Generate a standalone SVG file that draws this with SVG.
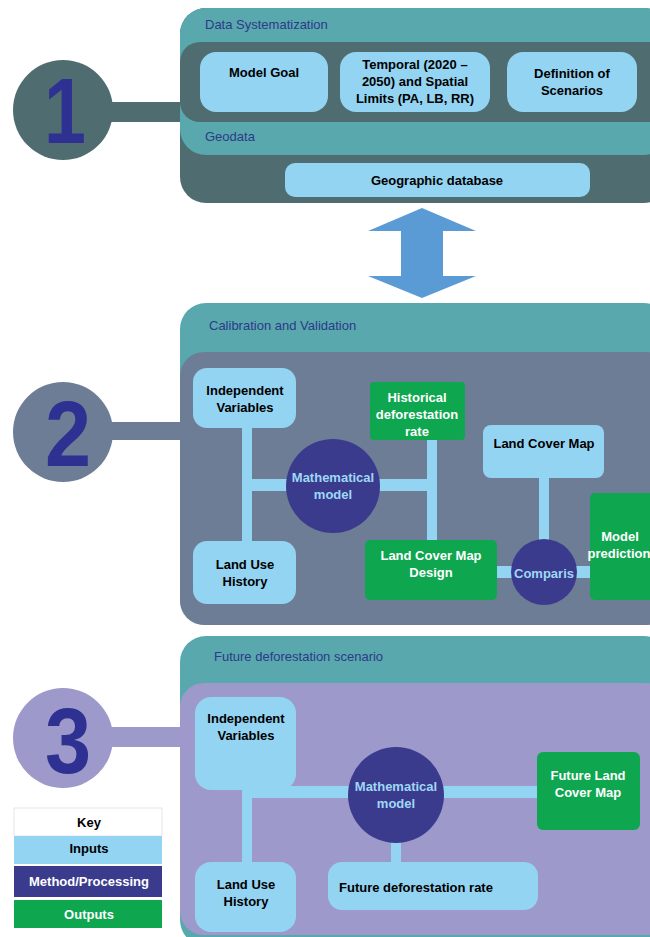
<svg xmlns="http://www.w3.org/2000/svg" width="650" height="937" viewBox="0 0 650 937">
<defs>
<style>
text{font-family:"Liberation Sans",Arial,sans-serif;font-weight:bold;font-size:13px;text-anchor:middle}
.in{fill:#93D4F2}
.out{fill:#0EA64F}
.proc{fill:#3B3B8E}
.bk{fill:#000}
.wt{fill:#fff}
.lb{fill:#9ED8F5}
.ttl{fill:#2E3A87;font-weight:normal;text-anchor:start;font-size:13px}
.num{fill:#2E3192;font-size:92px}
.con{fill:#93D4F2}
</style>
</defs>
<rect width="650" height="937" fill="#fff"/>

<!-- Section backgrounds -->
<g id="section1">
<rect x="100" y="102" width="90" height="20" fill="#4F6D70"/>
<circle cx="63" cy="110" r="50" fill="#4F6D70"/>
<text class="num" transform="translate(65,143) scale(0.82,1)">1</text>
<rect x="180" y="8" width="490" height="195" rx="26" fill="#4F6D70"/>
<rect x="180" y="8" width="490" height="147" rx="26" fill="#58A8AE"/>
<rect x="180" y="42" width="490" height="80" rx="20" fill="#4F6D70"/>
<text class="ttl" x="205" y="29">Data Systematization</text>
<text class="ttl" x="205" y="141">Geodata</text>
</g>
<g id="section2">
<rect x="100" y="422" width="90" height="18" fill="#6E7D96"/>
<circle cx="63" cy="432" r="50" fill="#6E7D96"/>
<text class="num" transform="translate(68,466) scale(0.9,1)">2</text>
<rect x="180" y="303" width="490" height="322" rx="26" fill="#58A8AE"/>
<rect x="180" y="352" width="490" height="273" rx="24" fill="#6E7D96"/>
<text class="ttl" x="209" y="330">Calibration and Validation</text>
</g>
<g id="section3">
<rect x="100" y="727" width="90" height="20" fill="#9D99CB"/>
<circle cx="63" cy="738" r="50" fill="#9D99CB"/>
<text class="num" transform="translate(68,773) scale(0.9,1)">3</text>
<rect x="180" y="636" width="490" height="310" rx="26" fill="#58A8AE"/>
<rect x="180" y="683" width="490" height="252" rx="24" fill="#9D99CB"/>
<text class="ttl" x="214" y="661">Future deforestation scenario</text>
</g>

<!-- Connectors -->
<g id="connectors">
<path d="M422,208 L476,231 L443,231 L443,276 L476,276 L422,298 L368,276 L401,276 L401,231 L368,231 Z" fill="#5B9BD5"/>
<rect class="con" x="242" y="425" width="10" height="120"/>
<rect class="con" x="247" y="479" width="185" height="12"/>
<rect class="con" x="427" y="438" width="10" height="104"/>
<rect class="con" x="539" y="476" width="10" height="66"/>
<rect class="con" x="495" y="566" width="20" height="12"/>
<rect class="con" x="573" y="566" width="20" height="12"/>
<rect class="con" x="242" y="788" width="10" height="76"/>
<rect class="con" x="247" y="786" width="295" height="12"/>
<rect class="con" x="391" y="835" width="10" height="30"/>
</g>

<!-- Section 1 nodes -->
<g id="model-goal"><rect class="in" x="200" y="52" width="128" height="60" rx="16"/><text class="bk" x="264" y="77">Model Goal</text></g>
<g id="temporal"><rect class="in" x="340" y="52" width="150" height="60" rx="16"/><text class="bk" x="415" y="69">Temporal (2020 –</text><text class="bk" x="415" y="86">2050) and Spatial</text><text class="bk" x="415" y="103">Limits (PA, LB, RR)</text></g>
<g id="scenarios"><rect class="in" x="507" y="52" width="130" height="60" rx="16"/><text class="bk" x="572" y="78">Definition of</text><text class="bk" x="572" y="95">Scenarios</text></g>
<g id="geo-db"><rect class="in" x="285" y="163" width="305" height="34" rx="10"/><text class="bk" x="437" y="185">Geographic database</text></g>

<!-- Section 2 nodes -->
<g id="indep2"><rect class="in" x="193" y="368" width="103" height="60" rx="14"/><text class="bk" x="245" y="395">Independent</text><text class="bk" x="245" y="412">Variables</text></g>
<g id="landuse2"><rect class="in" x="193" y="541" width="103" height="63" rx="14"/><text class="bk" x="245" y="569">Land Use</text><text class="bk" x="245" y="586">History</text></g>
<g id="math2"><circle class="proc" cx="333" cy="486" r="47"/><text class="lb" x="333" y="482">Mathematical</text><text class="lb" x="333" y="499">model</text></g>
<g id="hist-rate"><rect class="out" x="370" y="382" width="95" height="58" rx="4"/><text class="wt" x="417" y="402">Historical</text><text class="wt" x="417" y="419">deforestation</text><text class="wt" x="417" y="436">rate</text></g>
<g id="lcm-design"><rect class="out" x="365" y="540" width="132" height="60" rx="5"/><text class="wt" x="431" y="560">Land Cover Map</text><text class="wt" x="431" y="577">Design</text></g>
<g id="lcm"><rect class="in" x="483" y="425" width="121" height="53" rx="8"/><text class="bk" x="544" y="448">Land Cover Map</text></g>
<g id="compare"><circle class="proc" cx="544" cy="572" r="33"/><text class="lb" x="544" y="578">Comparis</text></g>
<g id="model-pred"><rect class="out" x="590" y="493" width="70" height="107" rx="5"/><text class="wt" x="620" y="541">Model</text><text class="wt" x="619" y="558">prediction</text></g>

<!-- Section 3 nodes -->
<g id="indep3"><rect class="in" x="195" y="697" width="101" height="93" rx="16"/><text class="bk" x="246" y="723">Independent</text><text class="bk" x="246" y="740">Variables</text></g>
<g id="landuse3"><rect class="in" x="195" y="862" width="101" height="70" rx="16"/><text class="bk" x="246" y="889">Land Use</text><text class="bk" x="246" y="906">History</text></g>
<g id="math3"><circle class="proc" cx="396" cy="795" r="48"/><text class="lb" x="396" y="791">Mathematical</text><text class="lb" x="396" y="808">model</text></g>
<g id="future-lcm"><rect class="out" x="537" y="752" width="103" height="78" rx="6"/><text class="wt" x="588" y="780">Future Land</text><text class="wt" x="588" y="797">Cover Map</text></g>
<g id="future-rate"><rect class="in" x="328" y="862" width="210" height="48" rx="14"/><text class="bk" x="416" y="892">Future deforestation rate</text></g>

<!-- Key -->
<g id="key">
<rect x="14" y="808" width="148" height="28" fill="#fff" stroke="#e6e6e6"/>
<text class="bk" x="89" y="827">Key</text>
<rect class="in" x="14" y="836" width="148" height="28"/>
<text class="bk" x="89" y="853">Inputs</text>
<rect class="proc" x="14" y="866" width="148" height="31"/>
<text class="wt" x="89" y="886">Method/Processing</text>
<rect class="out" x="14" y="900" width="148" height="28"/>
<text class="wt" x="89" y="919">Outputs</text>
</g>
</svg>
